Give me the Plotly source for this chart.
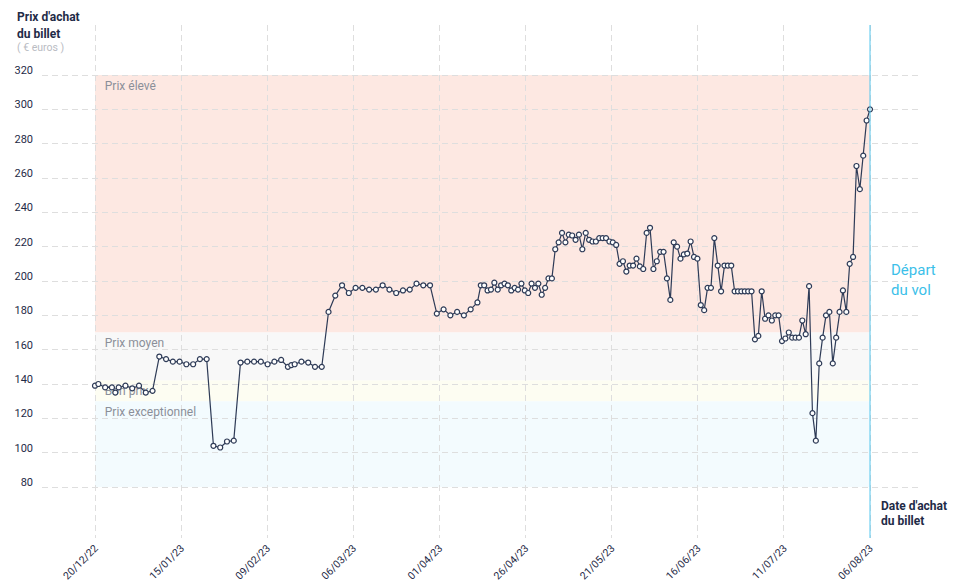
import plotly.graph_objects as go

# ---------------- DATA ----------------
# days since 20/12/22 (date d'achat du billet)
jours = [0, 1, 3, 5, 6, 7, 9, 11, 13, 15, 17, 19, 21, 23, 25, 27, 29, 31, 33, 35,
         37, 39, 41, 43, 45, 47, 49, 51, 53, 55, 57, 58, 59, 61, 63, 65, 67, 69, 71, 73,
         75, 77, 79, 81, 83, 85, 87, 89, 91, 93, 95, 97, 99, 101, 103, 105, 107, 109, 111] \
        + list(range(113, 230))

prix = [139, 140, 138, 138, 135, 138, 139, 137.5, 139, 135, 136, 156, 154.5, 153, 153,
        151.5, 151.5, 154.5, 154.5, 104, 103, 106.5, 107, 152.5, 153, 153, 153, 151.5, 153,
        154, 150, 151, 151.5, 153, 152.5, 150, 150, 182, 191.5, 197.5, 193, 196, 196, 195,
        195, 197.5, 195, 193, 194.5, 195, 198.5, 197.5, 197.5, 181, 183.5, 180, 182, 180, 183.5,
        # 113 -> 135
        187.5, 197.5, 197.5, 194.5, 195, 199, 195, 197.5, 198.5, 197.5, 194.5, 196, 195, 198.5,
        194.5, 193, 198.5, 196, 198.5, 192, 196, 201.5, 201.5,
        # 136 -> 229
        218.5, 222.5, 228, 222.5, 227, 226.5, 224, 227, 218.5, 228,
        224, 223, 223, 225, 225, 225, 223, 222.5, 221, 210,
        211.5, 205.5, 209, 209, 213, 208.5, 207, 228, 231, 207,
        211.5, 217, 217, 201.5, 189, 222.5, 220, 213, 215.5, 216,
        223, 214, 213, 186, 183, 196, 196, 225, 209, 194,
        209, 209, 209, 194, 194, 194, 194, 194, 194, 166,
        168, 194, 178, 180, 177, 180, 180, 165, 166.5, 170,
        167, 167, 167, 177, 169, 197, 123, 107, 152, 167,
        180, 182, 152, 167, 182, 194.5, 182, 210, 214, 267,
        253.5, 273, 293.5, 300]

assert len(jours) == len(prix)

tick_labels = ["20/12/22", "15/01/23", "09/02/23", "06/03/23", "01/04/23",
               "26/04/23", "21/05/23", "16/06/23", "11/07/23", "06/08/23"]
y_ticks = [80, 100, 120, 140, 160, 180, 200, 220, 240, 260, 280, 300, 320]

bandes_noms = ["Prix élevé", "Prix moyen", "Bon prix", "Prix exceptionnel"]
bandes_bas = [170, 142, 130, 80]
bandes_haut = [320, 170, 142, 130]
bandes_couleurs = ["#fde8e2", "#f8f8f8", "#fdfdf2", "#f3fbfe"]

# ---------------- LAYOUT HELPERS ----------------
W, H = 958, 585
L, R, T, B = 42, 918, 25, 538
x_last = 229
x_px0, x_px1 = 95, 870
ppd = (x_px1 - x_px0) / x_last
x_range = [(L - x_px0) / ppd, (R - x_px0) / ppd]
y_px320, y_px80 = 75, 487
ppu = (y_px80 - y_px320) / 240
y_range = [80 - (B - y_px80) / ppu, 320 + (y_px320 - T) / ppu]


def pxx(px):
    return (px - L) / (R - L)


def pxy(py):
    return (B - py) / (B - T)


FONT = "Roboto"
NAVY = "#1f2b47"

fig = go.Figure()

# band labels (under the line)
fig.add_trace(go.Scatter(
    x=[2.9] * len(bandes_noms),
    y=[h - 6.8 for h in bandes_haut],
    mode="text", text=bandes_noms, textposition="middle right",
    textfont=dict(family=FONT, size=12, color="#8b8f99"),
    hoverinfo="skip", showlegend=False))

fig.add_trace(go.Scatter(
    x=jours, y=prix, mode="lines+markers",
    line=dict(color="#2e3b57", width=1.2),
    marker=dict(symbol="circle", size=5, color="white",
                line=dict(color="#2e3b57", width=1.2)),
    showlegend=False))

shapes = []
for lo, hi, c in zip(bandes_bas, bandes_haut, bandes_couleurs):
    shapes.append(dict(type="rect", xref="x", yref="y", x0=0, x1=x_last, y0=lo, y1=hi,
                       fillcolor=c, line=dict(width=0), layer="below"))
shapes.append(dict(type="line", xref="x", yref="paper", x0=x_last, x1=x_last, y0=0, y1=1,
                   line=dict(color="#55c6ee", width=1), layer="above"))

annotations = [
    dict(text="<b>Prix d'achat</b>", x=pxx(15), y=pxy(17)),
    dict(text="<b>du billet</b>", x=pxx(15), y=pxy(34)),
    dict(text="( € euros )", x=pxx(15), y=pxy(47), font=dict(family=FONT, size=10.5, color="#b9bcc3")),
    dict(text="<b>Date d'achat</b>", x=pxx(879), y=pxy(506)),
    dict(text="<b>du billet</b>", x=pxx(879), y=pxy(521)),
    dict(text="Départ", x=pxx(889), y=pxy(270), font=dict(family=FONT, size=15, color="#3cbfe9")),
    dict(text="du vol", x=pxx(889), y=pxy(290), font=dict(family=FONT, size=15, color="#3cbfe9")),
]
for a in annotations:
    a.setdefault("font", dict(family=FONT, size=12, color=NAVY))
    a.update(xref="paper", yref="paper", xanchor="left", yanchor="middle", showarrow=False)

fig.update_layout(
    width=W, height=H,
    margin=dict(l=L, r=W - R, t=T, b=H - B, pad=0, autoexpand=False),
    plot_bgcolor="white", paper_bgcolor="white",
    font=dict(family=FONT, color=NAVY),
    shapes=shapes, annotations=annotations,
    xaxis=dict(range=x_range, tickmode="array", automargin=False,
               tickvals=[i * x_last / 9 for i in range(10)], ticktext=tick_labels,
               tickangle=-45, tickfont=dict(size=10.5, color=NAVY),
               showgrid=True, gridcolor="#dedede", griddash="6px,4px", gridwidth=1,
               zeroline=False, showline=False, ticks="", ticklabelstandoff=1),
    yaxis=dict(range=y_range, tickmode="array", tickvals=y_ticks, automargin=False,
               tickfont=dict(size=11, color=NAVY),
               showgrid=True, gridcolor="#dedede", griddash="6px,4px", gridwidth=1,
               zeroline=False, showline=False, ticks="",
               ticklabelstandoff=8, ticklabelshift=-5),
)

fig.write_html("out.html", post_script="document.body.style.margin='0px';",
               config={"displayModeBar": False})
